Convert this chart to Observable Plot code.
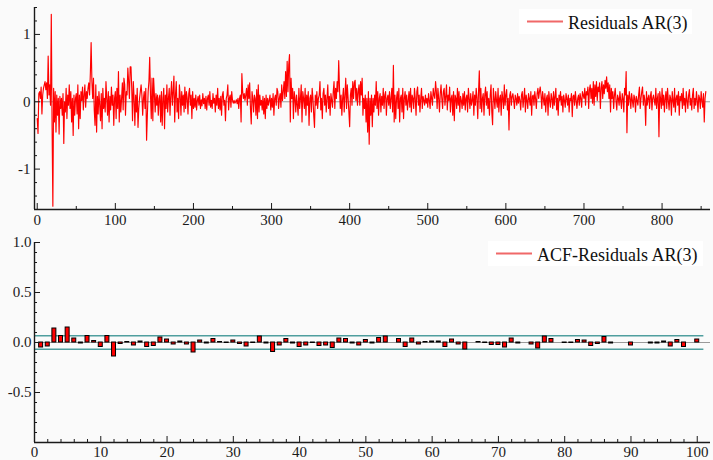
<!DOCTYPE html>
<html><head><meta charset="utf-8">
<script src="https://cdn.jsdelivr.net/npm/d3@7"></script>
<script src="https://cdn.jsdelivr.net/npm/@observablehq/plot@0.6"></script>
<style>
html,body{margin:0;padding:0;background:#fafafa;}
#chart{width:713px;height:460px;position:relative;}
#chart svg{display:block;font-family:"Liberation Serif","Times New Roman",serif !important;}
#chart svg text{font-family:"Liberation Serif","Times New Roman",serif !important;}
</style></head><body><div id="chart"></div>
<script>
// Residuals of the AR(3) model (index 0..856)
const residuals = [
-0.25,-0.47,0.12,0.15,0.05,0.22,-0.18,0.1,0.2,0.25,0.3,0.18,0.28,0.05,0.68,0.1,0.25,-0.05,1.3,-0.35,-1.55,0.2,-0.3,0.15,-0.45,0.1,-0.2,0.05,-0.48,0.08,-0.1,0.05,-0.2,0.12,-0.62,0.0,-0.15,0.2,-0.25,0.1,-0.05,0.25,-0.1,0.15,-0.3,0.05,-0.5,0.1,-0.2,0.05,
0.12,-0.18,0.25,-0.4,0.1,-0.25,0.15,0.02,0.22,-0.12,0.1,0.25,-0.08,0.15,0.05,0.2,0.28,0.1,0.42,0.88,0.3,0.05,0.35,-0.12,-0.35,0.25,-0.45,0.08,-0.18,0.15,-0.05,-0.28,0.12,-0.4,0.2,-0.1,0.05,-0.15,0.3,0.05,-0.2,0.15,-0.3,0.08,-0.12,0.22,-0.05,0.1,-0.35,0.05,
0.15,-0.25,0.2,-0.1,0.45,-0.3,0.1,-0.15,0.05,0.28,-0.12,0.35,0.25,-0.2,0.15,0.1,0.5,0.3,0.05,0.52,0.52,0.2,-0.28,0.3,0.05,-0.35,0.1,-0.15,0.2,-0.38,-0.1,0.05,0.15,0.25,0.1,-0.2,0.05,0.15,-0.1,0.2,-0.57,-0.2,0.15,0.3,0.66,0.1,-0.25,0.35,-0.28,0.35,
0.1,-0.15,0.12,-0.05,0.1,-0.2,0.05,0.1,-0.3,0.15,-0.35,0.05,0.2,-0.4,0.1,-0.1,0.25,-0.15,0.05,0.2,-0.2,0.1,0.3,-0.05,0.15,0.38,-0.3,0.1,0.3,-0.15,0.05,-0.25,0.25,0.1,-0.2,0.15,-0.05,0.1,-0.15,0.22,-0.1,0.15,0.05,-0.18,0.12,0.2,-0.05,0.1,-0.25,0.15,
-0.1,0.05,-0.08,0.1,-0.12,0.02,0.08,-0.05,0.1,-0.1,0.03,-0.06,0.12,-0.03,0.05,-0.1,0.08,-0.12,0.05,0.1,-0.05,0.15,-0.08,0.02,-0.1,0.12,-0.02,0.05,-0.15,0.1,-0.05,0.2,-0.1,0.05,-0.12,0.08,-0.2,0.1,0.15,-0.05,0.02,-0.28,0.05,0.1,0.25,-0.12,0.05,0.1,-0.08,0.15,
0.02,-0.02,0.02,-0.02,0.0,0.03,-0.03,0.05,-0.1,0.05,0.1,-0.3,0.42,0.15,0.05,0.12,0.02,0.1,0.2,-0.05,0.25,0.05,0.28,-0.1,-0.33,0.15,0.05,-0.15,0.1,0.05,-0.2,0.18,-0.25,0.25,-0.15,0.1,-0.05,0.02,-0.12,0.08,-0.18,0.05,-0.25,0.1,-0.1,0.05,-0.05,0.02,0.1,-0.12,
0.05,-0.08,0.12,-0.2,0.05,0.1,-0.05,0.2,0.15,-0.1,0.05,0.12,-0.08,0.25,0.02,0.15,0.3,0.05,0.45,0.08,0.6,0.15,0.55,0.7,-0.3,0.35,0.05,0.2,-0.25,0.15,0.05,-0.15,0.1,-0.05,-0.2,0.2,-0.1,0.05,0.25,-0.3,0.15,0.05,-0.1,0.2,-0.2,0.1,-0.05,0.15,-0.35,0.05,
0.1,-0.15,0.2,0.05,-0.2,-0.38,0.1,-0.05,0.15,-0.1,0.05,0.1,0.3,-0.12,0.05,-0.25,0.12,0.2,-0.05,0.1,-0.15,0.05,0.25,-0.1,0.08,-0.2,0.12,0.02,-0.08,0.15,0.3,-0.1,0.2,0.05,0.3,0.15,0.61,0.2,-0.1,0.1,-0.2,0.05,0.2,-0.15,0.1,0.35,-0.1,0.25,0.05,-0.15,
-0.37,0.1,0.2,-0.05,0.3,0.05,0.28,0.32,0.02,0.2,-0.05,0.15,0.25,-0.05,0.3,0.1,0.35,-0.2,0.05,-0.1,0.1,-0.3,0.05,-0.45,0.15,-0.63,0.05,-0.2,0.1,-0.37,0.05,-0.15,0.1,-0.05,0.3,-0.1,0.15,-0.2,0.05,0.12,-0.15,0.08,-0.05,0.2,-0.1,0.1,0.15,-0.2,0.05,0.1,
-0.05,0.15,-0.1,0.05,0.2,-0.15,0.54,-0.3,0.1,-0.25,0.05,0.15,-0.1,0.2,-0.3,0.05,0.1,-0.15,0.2,-0.25,0.05,0.15,-0.05,0.1,-0.12,0.02,0.15,-0.08,0.2,-0.15,0.1,0.05,-0.1,0.2,0.05,-0.2,0.15,0.22,-0.05,0.1,-0.15,0.05,0.2,-0.1,0.08,0.02,-0.05,0.1,-0.02,0.05,
-0.08,0.12,0.02,-0.1,0.15,0.05,-0.05,0.2,0.1,0.05,0.3,0.15,-0.1,0.2,0.05,-0.15,0.12,0.25,0.05,-0.1,0.15,0.2,-0.05,0.08,0.25,-0.12,0.1,0.02,0.22,-0.15,0.05,0.1,-0.2,0.15,-0.28,0.1,0.05,-0.1,0.2,-0.05,0.15,-0.15,0.08,0.02,-0.1,0.12,-0.05,0.15,-0.12,0.05,
0.1,-0.15,0.2,0.05,-0.1,0.12,-0.05,0.02,0.15,-0.2,0.1,-0.05,0.2,0.05,-0.25,0.15,0.46,-0.1,0.2,-0.15,0.05,0.12,-0.2,0.1,0.22,-0.05,0.15,-0.1,0.05,-0.2,0.1,0.25,-0.15,-0.34,0.2,0.05,-0.1,0.15,0.02,-0.08,0.2,-0.15,0.05,0.1,-0.2,0.15,0.05,-0.1,0.25,-0.05,
0.1,0.18,-0.12,0.05,-0.42,0.1,0.15,-0.05,0.08,0.12,0.02,-0.1,0.1,0.05,-0.05,0.12,-0.02,0.08,0.02,-0.12,0.1,0.15,-0.08,0.05,0.2,-0.15,0.1,0.02,-0.1,0.12,0.05,-0.05,0.15,-0.2,0.08,0.1,-0.05,0.15,0.05,-0.1,0.12,0.2,0.05,0.15,0.22,0.1,-0.1,0.15,0.05,-0.05,
0.12,-0.15,0.05,0.1,-0.2,0.15,0.02,-0.08,0.12,0.05,-0.1,0.15,-0.05,0.08,0.2,-0.12,0.05,-0.2,0.1,0.02,0.15,-0.05,0.08,-0.15,0.1,0.02,-0.08,0.12,0.05,-0.05,0.1,-0.15,0.05,0.02,0.12,-0.22,0.08,0.1,-0.05,0.15,0.02,-0.1,0.05,0.1,-0.05,0.12,0.05,-0.08,0.15,0.1,
0.05,0.2,-0.05,0.15,0.1,0.22,-0.1,0.18,0.25,0.05,0.2,-0.02,0.3,-0.05,0.25,0.08,0.3,0.02,0.22,0.15,0.28,-0.1,0.2,0.3,0.05,0.25,0.12,0.32,0.2,0.37,0.15,0.28,0.05,0.25,-0.15,0.2,0.05,0.15,-0.1,0.1,0.2,0.02,-0.12,0.1,0.05,-0.05,0.15,0.02,-0.1,0.12,
0.05,-0.15,0.2,0.1,0.45,-0.46,0.1,-0.05,0.15,0.05,-0.1,0.12,0.02,-0.08,0.1,0.05,-0.15,0.08,0.02,-0.05,0.1,0.22,-0.1,0.05,0.15,0.22,-0.05,0.1,0.02,-0.35,0.15,-0.05,0.05,0.1,-0.1,0.08,0.15,-0.12,0.05,0.1,0.02,-0.05,0.2,-0.1,0.05,0.12,-0.52,0.15,0.05,-0.1,
0.2,-0.05,0.1,-0.15,0.05,0.15,-0.1,0.2,0.02,-0.12,0.1,0.05,-0.2,0.15,0.02,-0.08,0.2,-0.15,0.05,0.1,-0.05,0.15,-0.2,0.08,0.02,0.12,-0.1,0.2,-0.05,0.05,-0.15,0.15,0.02,-0.1,0.1,0.18,-0.05,0.05,-0.12,0.1,0.2,-0.1,0.05,-0.05,0.15,0.02,-0.15,0.1,0.05,-0.1,
0.15,0.02,-0.08,0.12,-0.3,0.05,0.15
];

// Autocorrelation of the residuals, lags 1..100
const acfLags = d3.range(1, 101);
const acfValues = [
-0.05,-0.04,0.14,0.065,0.15,0.04,-0.01,0.065,0.015,-0.045,
0.065,-0.14,-0.015,0.005,-0.03,0.01,-0.045,-0.035,0.05,0.03,
-0.02,0.01,-0.02,-0.1,0.02,-0.01,0.035,0.005,-0.005,0.02,
-0.015,-0.04,-0.005,0.06,-0.01,-0.095,-0.03,0.035,-0.01,-0.045,
-0.03,-0.005,-0.035,-0.03,-0.055,0.04,0.035,-0.01,-0.03,0.025,
-0.01,0.045,0.06,0.0,0.035,-0.045,0.04,-0.02,0.005,0.01,
0.01,-0.045,0.03,-0.02,-0.07,0.0,0.005,-0.005,-0.025,-0.025,
-0.05,0.04,-0.01,0.0,-0.02,-0.06,0.06,0.035,0.0,-0.005,
-0.005,0.025,0.02,-0.035,-0.015,0.055,-0.01,0.0,0.0,-0.03,
0.0,0.0,-0.01,-0.01,0.01,-0.04,0.025,-0.045,0.0,0.03
];
const confBand = 0.068;

// Tick values and labels
const topXMajor = [0,100,200,300,400,500,600,700,800];
const topXMinor = [50,150,250,350,450,550,650,750,850];
const topYMajor = [-1,0,1];
const topYMinor = [-1.6,-1.4,-1.2,-0.8,-0.6,-0.4,-0.2,0.2,0.4,0.6,0.8,1.2,1.4];
const botXMajor = [0,10,20,30,40,50,60,70,80,90,100];
const botXMinor = d3.range(2, 102, 2).filter(d => d % 10 !== 0);
const botYMajor = [-0.5,0,0.5,1];
const botYMinor = [-0.9,-0.8,-0.7,-0.6,-0.4,-0.3,-0.2,-0.1,0.1,0.2,0.3,0.4,0.6,0.7,0.8,0.9];
const topLegendLabel = "Residuals AR(3)";
const botLegendLabel = "ACF-Residuals AR(3)";

const FONT = "Liberation Serif";
const AXIS = "#1a1a1a";

function axesMarks({xMajor, xMinor, yMajor, yMinor, xFmt, yFmt, xPad, yPad}) {
  return [
    Plot.axisX({ticks: xMinor, tickSize: 3, dy: -3, fill: "none", stroke: AXIS, label: null}),
    Plot.axisX({ticks: xMajor, tickSize: 6, dy: -6, fill: "none", stroke: AXIS, label: null}),
    Plot.axisX({ticks: xMajor, tickSize: 0, tickPadding: xPad, tickFormat: xFmt, fill: AXIS, label: null, fontSize: 15, fontFamily: FONT}),
    Plot.axisY({ticks: yMinor, tickSize: 3, dx: 3, fill: "none", stroke: AXIS, label: null}),
    Plot.axisY({ticks: yMajor, tickSize: 6, dx: 6, fill: "none", stroke: AXIS, label: null}),
    Plot.axisY({ticks: yMajor, tickSize: 0, tickPadding: yPad, tickFormat: yFmt, fill: AXIS, label: null, fontSize: 15, fontFamily: FONT})
  ];
}

function addLegend(svg, {x, y, w, h, label}) {
  const g = d3.select(svg).append("g");
  g.append("rect").attr("x", x).attr("y", y).attr("width", w).attr("height", h).attr("fill", "#ffffff");
  g.append("line").attr("x1", x + 8).attr("x2", x + 44).attr("y1", y + h / 2).attr("y2", y + h / 2)
    .attr("stroke", "#f06868").attr("stroke-width", 1.8);
  g.append("text").attr("x", x + 49).attr("y", y + h / 2 + 7.5)
    .attr("text-anchor", "start").style("text-anchor", "start")
    .attr("font-family", FONT).attr("font-size", 18).style("font-size", "18px").attr("fill", "#111").text(label);
}

const series = residuals.map((v, i) => ({t: i, v}));
const xMinTop = -3.5, yMinTop = -1.6;

const topPlot = Plot.plot({
  width: 713, height: 230,
  marginTop: 7, marginBottom: 21, marginLeft: 34, marginRight: 3,
  x: {domain: [xMinTop, 862], label: null},
  y: {domain: [yMinTop, 1.4], label: null},
  style: {background: "#fafafa", fontFamily: FONT, fontSize: "15px", color: AXIS},
  marks: [
    Plot.ruleY([0], {stroke: "#9a9a9a", strokeWidth: 1}),
    Plot.line(series, {x: "t", y: "v", stroke: "#ff0000", strokeWidth: 1.15}),
    ...axesMarks({xMajor: topXMajor, xMinor: topXMinor, yMajor: topYMajor, yMinor: topYMinor,
      xFmt: d => String(d), yFmt: d => String(d), xPad: 5, yPad: 4}),
    Plot.ruleX([xMinTop], {stroke: AXIS, strokeWidth: 1.4}),
    Plot.ruleY([yMinTop], {stroke: AXIS, strokeWidth: 1.4})
  ]
});

const acf = acfValues.map((v, i) => ({lag: acfLags[i], v}));
const botPlot = Plot.plot({
  width: 713, height: 230,
  marginTop: 12, marginBottom: 18, marginLeft: 34, marginRight: 3,
  x: {domain: [0, 102], label: null},
  y: {domain: [-1, 1], label: null},
  style: {background: "#fafafa", fontFamily: FONT, fontSize: "15px", color: AXIS},
  marks: [
    Plot.ruleY([0], {stroke: "#9a9a9a", strokeWidth: 1}),
    Plot.ruleY([confBand, -confBand], {x1: 0, x2: 101, stroke: "#4f9e9e", strokeWidth: 1.4}),
    Plot.rect(acf, {x1: d => d.lag - 0.3, x2: d => d.lag + 0.3, y1: 0, y2: "v", fill: "#ff0000", stroke: "#000", strokeWidth: 1}),
    ...axesMarks({xMajor: botXMajor, xMinor: botXMinor, yMajor: botYMajor, yMinor: botYMinor,
      xFmt: d => String(d), yFmt: d => d.toFixed(1), xPad: 4, yPad: 3}),
    Plot.ruleX([0], {stroke: AXIS, strokeWidth: 1.4}),
    Plot.ruleY([-1], {stroke: AXIS, strokeWidth: 1.4})
  ]
});

addLegend(topPlot, {x: 519, y: 9, w: 173, h: 25, label: topLegendLabel});
addLegend(botPlot, {x: 488, y: 11, w: 215, h: 25, label: botLegendLabel});

const chart = document.getElementById("chart");
chart.appendChild(topPlot);
chart.appendChild(botPlot);
</script>
</body></html>
